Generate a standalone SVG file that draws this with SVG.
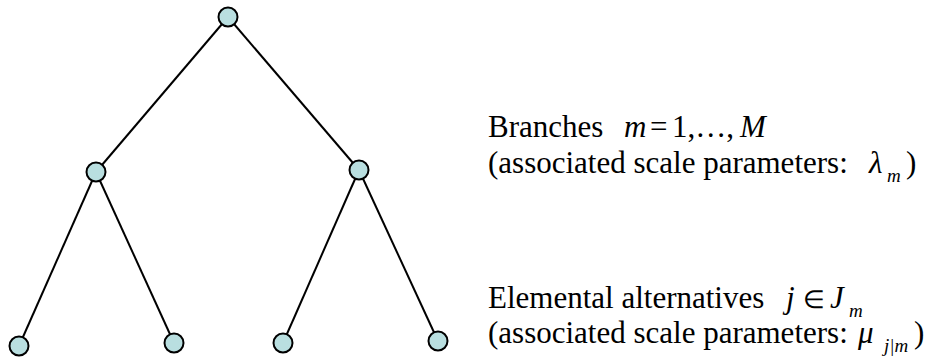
<svg xmlns="http://www.w3.org/2000/svg" width="931" height="360" viewBox="0 0 931 360">
<style>
.edge{stroke:#000;stroke-width:2;fill:none}
.node{fill:#b9dfe0;stroke:#000;stroke-width:2}
.t{font-family:"Liberation Serif","Times New Roman",serif;font-size:31px;fill:#000}
.i{font-style:italic}
.s{font-family:"Liberation Serif","Times New Roman",serif;font-size:19px;font-style:italic;fill:#000}
</style>
<rect width="931" height="360" fill="#fff"/>
<g id="connectors">
<line class="edge" x1="228" y1="17" x2="96" y2="172"/>
<line class="edge" x1="228" y1="17" x2="359" y2="170"/>
<line class="edge" x1="96" y1="172" x2="19" y2="346"/>
<line class="edge" x1="96" y1="172" x2="174" y2="343"/>
<line class="edge" x1="359" y1="170" x2="283" y2="343"/>
<line class="edge" x1="359" y1="170" x2="438" y2="341"/>
</g>
<g id="root"><circle class="node" cx="228" cy="17" r="9.5"/></g>
<g id="branch1"><circle class="node" cx="96" cy="172" r="9.5"/></g>
<g id="branch2"><circle class="node" cx="359" cy="170" r="9.5"/></g>
<g id="alt1"><circle class="node" cx="19" cy="346" r="9.5"/></g>
<g id="alt2"><circle class="node" cx="174" cy="343" r="9.5"/></g>
<g id="alt3"><circle class="node" cx="283" cy="343" r="9.5"/></g>
<g id="alt4"><circle class="node" cx="438" cy="341" r="9.5"/></g>
<g id="labels">
<text class="t" x="488" y="137">Branches<tspan x="624" class="i">m</tspan><tspan x="650">=</tspan><tspan x="672">1,…,</tspan><tspan x="740" class="i">M</tspan></text>
<text class="t" x="488" y="173">(associated scale parameters:<tspan x="869" class="i">λ</tspan><tspan x="906">)</tspan></text>
<text class="s" x="887" y="182">m</text>
<text class="t" x="488" y="308">Elemental alternatives<tspan x="786" class="i">j</tspan><tspan x="803" font-size="25">∈</tspan><tspan x="830" class="i">J</tspan></text>
<text class="s" x="849" y="317">m</text>
<text class="t" x="488" y="343">(associated scale parameters:<tspan x="858" class="i">μ</tspan><tspan x="914">)</tspan></text>
<text class="s" x="884" y="352">j|m</text>
</g>
</svg>
